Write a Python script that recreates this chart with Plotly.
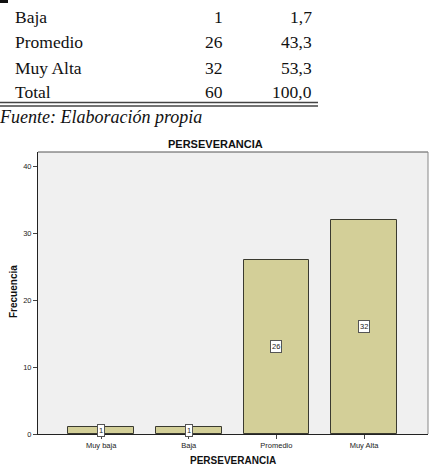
import plotly.graph_objects as go

# ---- data ----
table_labels = ["Baja", "Promedio", "Muy Alta", "Total"]
table_freq = [1, 26, 32, 60]
table_pct = ["1,7", "43,3", "53,3", "100,0"]
source_note = "Fuente: Elaboración propia"

categories = ["Muy baja", "Baja", "Promedio", "Muy Alta"]
frequencies = [1, 1, 26, 32]
y_ticks = [0, 10, 20, 30, 40]
chart_title = "PERSEVERANCIA"
x_title = "PERSEVERANCIA"
y_title = "Frecuencia"

# ---- layout geometry (pixels) ----
W, H = 435, 473
L, R, T, B = 38, 428, 152, 434


def px(x):
    return (x - L) / (R - L)


def py(y):
    return (B - y) / (B - T)


fig = go.Figure()
fig.add_trace(go.Bar(
    x=categories, y=frequencies, width=0.75,
    marker=dict(color="#d3cf98", line=dict(color="#3a3a30", width=1)),
    hoverinfo="x+y",
))

ann = []
# data labels at half height
for c, v in zip(categories, frequencies):
    ann.append(dict(x=c, y=v / 2, xref="x", yref="y", text=str(v), showarrow=False,
                    font=dict(family="Liberation Sans", size=7.5, color="#222"),
                    bgcolor="white", bordercolor="#555", borderwidth=1, borderpad=1))

# table text
row_y = [17.5, 42.5, 67.5, 92.5]
serif = dict(family="Liberation Serif", size=17.5, color="#111")
for lab, f, p, yy in zip(table_labels, table_freq, table_pct, row_y):
    ann.append(dict(x=px(13), y=py(yy), xref="paper", yref="paper", text=lab,
                    showarrow=False, xanchor="left", yanchor="middle", font=serif))
    ann.append(dict(x=px(225), y=py(yy), xref="paper", yref="paper", text=str(f),
                    showarrow=False, xanchor="right", yanchor="middle", font=serif))
    ann.append(dict(x=px(314), y=py(yy), xref="paper", yref="paper", text=p,
                    showarrow=False, xanchor="right", yanchor="middle", font=serif))
ann.append(dict(x=px(-3), y=py(117.5), xref="paper", yref="paper", text="<i>" + source_note + "</i>",
                showarrow=False, xanchor="left", yanchor="middle",
                font=dict(family="Liberation Serif", size=18, color="#111")))

# chart titles
ann.append(dict(x=px(215), y=py(144), xref="paper", yref="paper", text="<b>" + chart_title + "</b>",
                showarrow=False, xanchor="center", yanchor="middle",
                font=dict(family="Liberation Sans", size=11, color="#111")))
ann.append(dict(x=px(233), y=py(460), xref="paper", yref="paper", text="<b>" + x_title + "</b>",
                showarrow=False, xanchor="center", yanchor="middle",
                font=dict(family="Liberation Sans", size=10, color="#111")))
ann.append(dict(x=px(13), y=py(292), xref="paper", yref="paper", text="<b>" + y_title + "</b>",
                showarrow=False, xanchor="center", yanchor="middle", textangle=-90,
                font=dict(family="Liberation Sans", size=10, color="#111")))

shapes = [
    # top-left dash
    dict(type="line", xref="paper", yref="paper", x0=px(0), x1=px(8), y0=py(1.5), y1=py(1.5),
         line=dict(color="#111", width=3)),
    # double rule under table
    dict(type="line", xref="paper", yref="paper", x0=px(0), x1=px(318), y0=py(102.5), y1=py(102.5),
         line=dict(color="#444", width=1.3)),
    dict(type="line", xref="paper", yref="paper", x0=px(0), x1=px(318), y0=py(106), y1=py(106),
         line=dict(color="#444", width=1.3)),
    # top and right frame of plot
    dict(type="line", xref="paper", yref="paper", x0=0, x1=1, y0=1, y1=1,
         line=dict(color="#555", width=1)),
    dict(type="line", xref="paper", yref="paper", x0=1, x1=1, y0=0, y1=1,
         line=dict(color="#888", width=1)),
]

fig.update_layout(
    width=W, height=H,
    margin=dict(l=L, r=W - R, t=T, b=H - B, pad=0),
    paper_bgcolor="white", plot_bgcolor="#f0f0f0",
    showlegend=False, bargap=0,
    annotations=ann, shapes=shapes,
    xaxis=dict(range=[-0.72, 3.73], showgrid=False, zeroline=False,
               showline=True, linecolor="#222", linewidth=1,
               ticks="outside", ticklen=4, tickcolor="#444",
               tickfont=dict(family="Liberation Sans", size=7.5, color="#222")),
    yaxis=dict(range=[0, 42.1], tickvals=y_ticks, showgrid=False, zeroline=False,
               showline=True, linecolor="#222", linewidth=1,
               ticks="outside", ticklen=4, tickcolor="#444",
               tickfont=dict(family="Liberation Sans", size=7.5, color="#222")),
)

fig.write_html("out.html")
